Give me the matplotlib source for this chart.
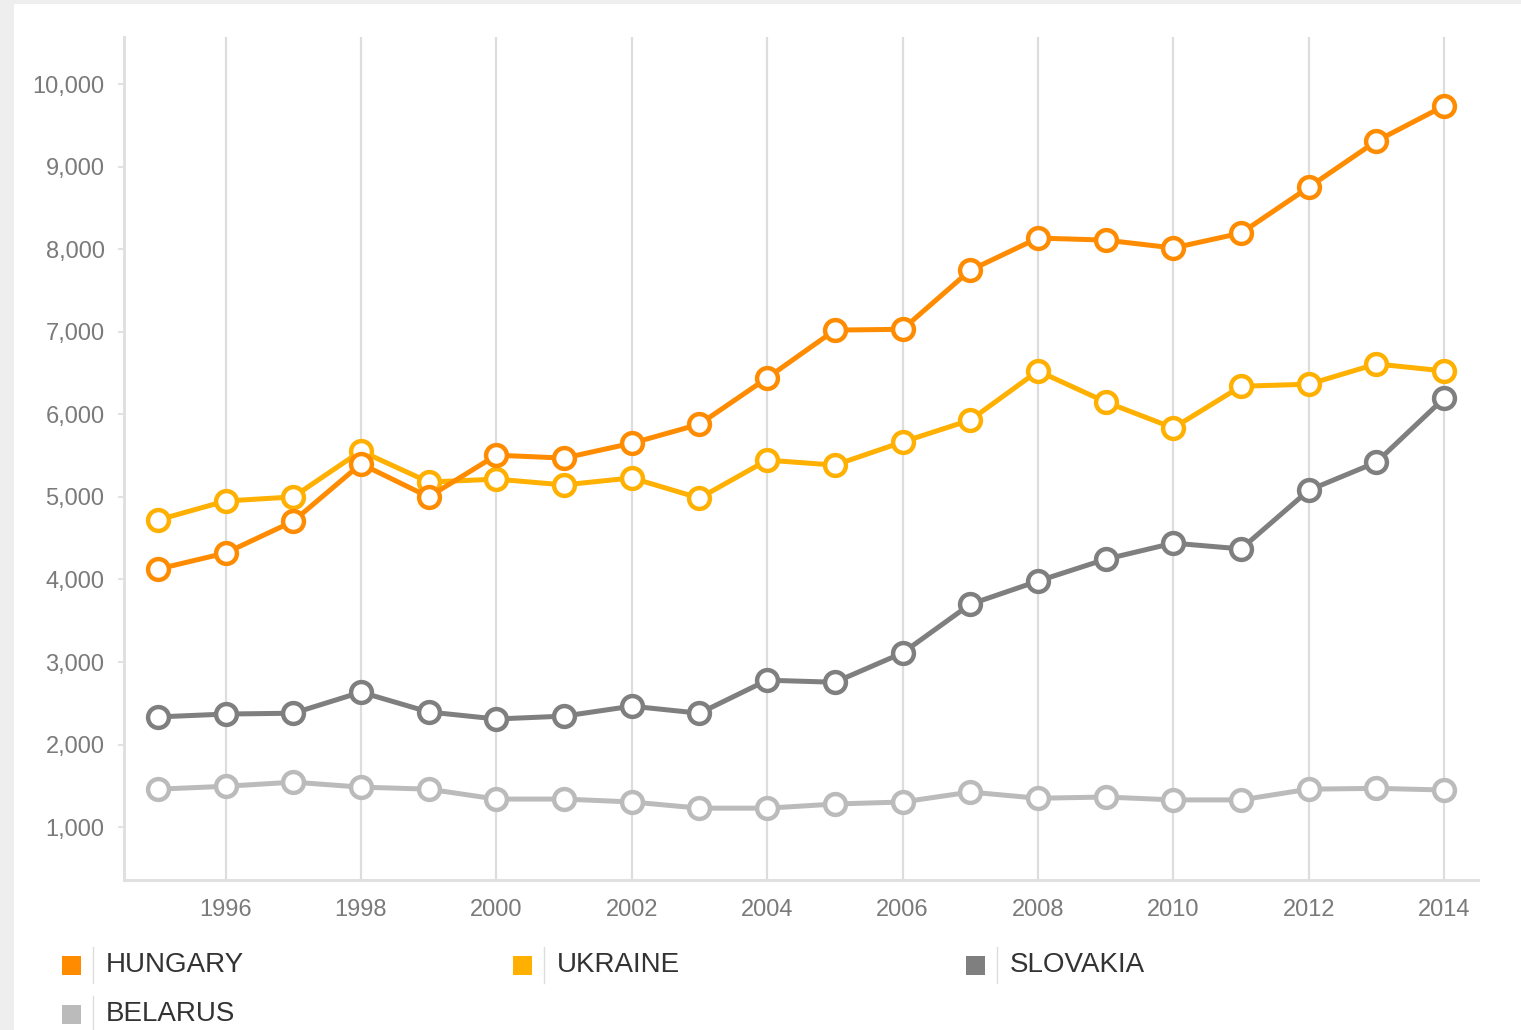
import matplotlib.pyplot as plt
from matplotlib.patches import Rectangle
from matplotlib.lines import Line2D
from matplotlib.ticker import FuncFormatter

plt.rcParams['font.family'] = ['Liberation Sans', 'DejaVu Sans']

years = list(range(1995, 2015))

hungary = [4125, 4320, 4705, 5400, 5000, 5505, 5470, 5650, 5880, 6440,
           7020, 7030, 7745, 8135, 8110, 8015, 8195, 8750, 9310, 9735]
ukraine = [4720, 4950, 5000, 5555, 5180, 5215, 5145, 5230, 4985, 5445,
           5385, 5665, 5930, 6525, 6150, 5835, 6340, 6365, 6610, 6525]
slovakia = [2335, 2370, 2380, 2635, 2395, 2310, 2345, 2465, 2380, 2780,
            2755, 3110, 3700, 3980, 4245, 4440, 4370, 5080, 5420, 6195]
belarus = [1460, 1495, 1545, 1485, 1460, 1340, 1340, 1305, 1230, 1230,
           1280, 1305, 1425, 1350, 1365, 1330, 1330, 1460, 1470, 1450]

series_names = ['HUNGARY', 'UKRAINE', 'SLOVAKIA', 'BELARUS']
series_colors = ['#FF8C00', '#FFB000', '#7F7F7F', '#BBBBBB']
series_values = [hungary, ukraine, slovakia, belarus]

fig = plt.figure(figsize=(15.21, 10.30), dpi=100)
fig.patch.set_facecolor('#eeeeee')
# white card with a faint shadow on the top/left edges
fig.add_artist(Rectangle((14 / 1521, 0), 1 - 14 / 1521, 1 - 4 / 1030,
                         transform=fig.transFigure, facecolor='white',
                         edgecolor='none', zorder=0))

ax = fig.add_axes([124 / 1521, 150 / 1030, (1478 - 124) / 1521, (880 - 37) / 1030])
ax.set_facecolor('white')

# draw lower series first so orange sits on top
for name, color, vals in list(zip(series_names, series_colors, series_values))[::-1]:
    ax.plot(years, vals, color=color, lw=3.6, marker='o', ms=15,
            mfc='white', mec=color, mew=3.2, zorder=3, solid_joinstyle='round')

ax.set_xlim(1994.5, 2014.5)
ax.set_ylim(360, 10570)
ax.set_xticks(range(1996, 2015, 2))
ax.set_yticks(range(1000, 10001, 1000))
ax.yaxis.set_major_formatter(FuncFormatter(lambda v, p: f'{int(v):,}'))

ax.grid(axis='x', color='#dddddd', lw=1.6)
ax.set_axisbelow(True)
for side in ['top', 'right']:
    ax.spines[side].set_visible(False)
for side in ['left', 'bottom']:
    ax.spines[side].set_color('#e0e0e0')
    ax.spines[side].set_linewidth(2.2)

ax.tick_params(axis='y', length=4, width=1.2, color='#dddddd', pad=10,
               labelsize=17, labelcolor='#7a7a7a')
ax.tick_params(axis='x', length=0, pad=14, labelsize=17, labelcolor='#7a7a7a')

# legend built by hand: square, thin divider, label
legend_pos = [(62, 965), (513, 965), (966, 965), (62, 1014)]
for (px, py), name, color in zip(legend_pos, series_names, series_colors):
    fig.add_artist(Rectangle((px / 1521, 1 - (py + 10) / 1030), 19 / 1521, 19 / 1030,
                             transform=fig.transFigure, facecolor=color,
                             edgecolor='none'))
    fig.add_artist(Line2D([(px + 31) / 1521] * 2,
                          [1 - (py - 18) / 1030, 1 - (py + 18) / 1030],
                          transform=fig.transFigure, color='#dddddd', lw=1))
    fig.text((px + 44) / 1521, 1 - py / 1030, name, fontsize=20,
             color='#333333', va='center', ha='left')

fig.savefig('out.png', dpi=100, facecolor=fig.get_facecolor())
